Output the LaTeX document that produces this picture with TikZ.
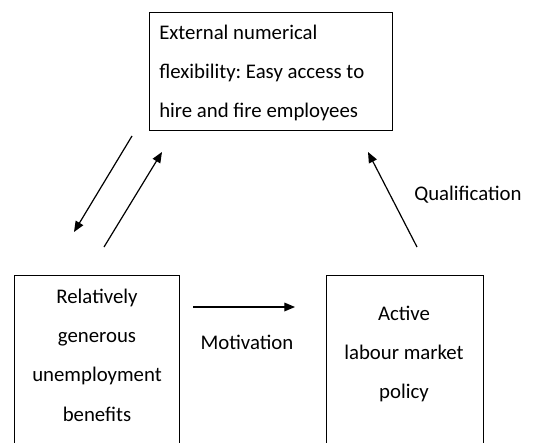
\documentclass[tikz,border=0pt]{standalone}
\usepackage{fontspec}
\setmainfont{Carlito}
\frenchspacing
\usetikzlibrary{arrows.meta}

\begin{document}
\begin{tikzpicture}[x=0.75pt,y=0.75pt,yscale=-1,xscale=1,
	box/.style={draw, line width=0.75pt, inner sep=0pt},
	txt/.style={inner sep=0.75pt, font=\fontsize{15.6}{29.5}\selectfont},
	arr/.style={line width=0.9pt, -{Triangle[length=8pt,width=6.5pt]}}]
		\useasboundingbox (0,0) rectangle (538,442);
		\clip (0,0) rectangle (538,442);
		
		%Shape: Rectangle [flex]
		\node [box, anchor=north west, minimum width=182.25pt, minimum height=88.5pt] (flex) at (149,12) {};
		%Shape: Rectangle [benefits]
		\node [box, anchor=north west, minimum width=123.75pt, minimum height=142pt] (benefits) at (14,275) {};
		%Shape: Rectangle [almp]
		\node [box, anchor=north west, minimum width=117.75pt, minimum height=142pt] (almp) at (326,275) {};
		
		% Text Node
		\node [txt, anchor=west, align=left] (flextext) at (158,73) {External numerical\\flexibility: Easy access to\\hire and fire employees};
		% Text Node
		\node [txt, align=center] (benefitstext) at (97,355) {Relatively\\generous\\unemployment\\benefits};
		% Text Node
		\node [txt, align=center] (almptext) at (404,354) {Active\\labour market\\policy};
		% Text Node
		\node [txt] (motivation) at (247,342) {Motivation};
		% Text Node
		\node [txt, anchor=west] (qualification) at (413,195) {Qualification};
		
		%Arrow ends
		\coordinate (fd1) at (132,136);
		\coordinate (fd2) at (74,232);
		\coordinate (fu1) at (104,247);
		\coordinate (fu2) at (162,152);
		\coordinate (q1) at (417,247);
		\coordinate (q2) at (368,152);
		\coordinate (m1) at (193,307);
		\coordinate (m2) at (295,307);
		
		%Straight Lines
		\draw [arr] (fd1) -- (fd2);
		\draw [arr] (fu1) -- (fu2);
		\draw [arr] (q1) -- (q2);
		\draw [arr] (m1) -- (m2);
		
\end{tikzpicture}
\end{document}
